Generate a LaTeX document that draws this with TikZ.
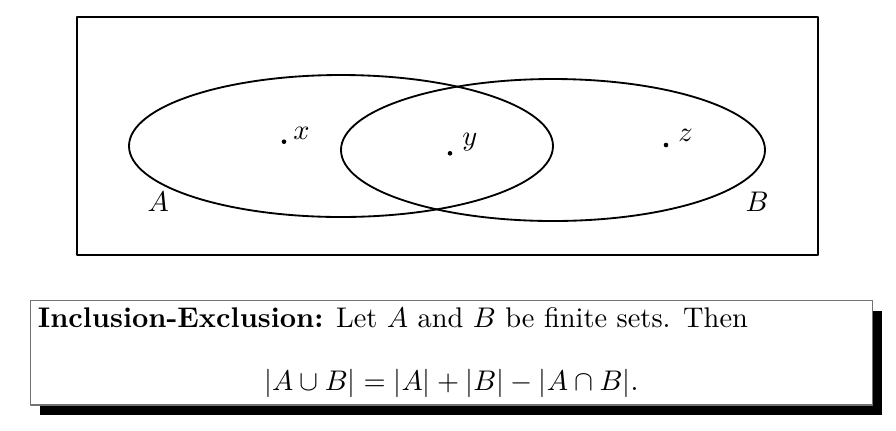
\documentclass[tikz,border=0pt]{standalone}
\usetikzlibrary{shadows}

\newcommand{\px}{0.352pt}
\tikzset{
  setline/.style={line width=0.65pt},
  elem/.style={circle,fill=black,inner sep=0pt,minimum size=4.6*\px},
  lbl/.style={anchor=base west,inner sep=0pt},
  thmbox/.style={draw=black!55,line width=0.4pt,fill=white,inner sep=0pt,
    minimum width=842*\px,minimum height=104.3*\px,
    drop shadow={opacity=1,fill=black,shadow xshift=9.5*\px,shadow yshift=-10*\px}}
}

\begin{document}
\begin{tikzpicture}[line cap=round,line join=round,x=\px,y=-\px]
            \useasboundingbox (0,0) rectangle (896,430);
            % universe and the two sets
            \draw [setline] (77,17) rectangle (818,255);
            \draw [setline] (341,146) ellipse [x radius=212,y radius=71];
            \draw [setline] (553,150) ellipse [x radius=212,y radius=71];
            \node [lbl] (nameA) at (147,211.7) {$A$};
            \node [lbl] (nameB) at (745,211.7) {$B$};
            % elements
            \node [elem] (ex) at (284,141.7) {};
            \node [lbl] (lx) at (292.7,139) {$x$};
            \node [elem] (ey) at (450,153.3) {};
            \node [lbl] (ly) at (461.7,145.7) {$y$};
            \node [elem] (ez) at (666,145) {};
            \node [lbl] (lz) at (677.7,141.7) {$z$};
            % the statement
            \node [thmbox] (thm) at (451.3,352.85) {};
            \node [lbl] (head) at (37.3,327.3) {\textbf{Inclusion-Exclusion:} Let $A$ and $B$ be finite sets. Then};
            \node [anchor=base,inner sep=0pt] (formula) at (451.3,390) {$|A\cup B| = |A| + |B| - |A\cap B|$.};
\end{tikzpicture}
\end{document}
